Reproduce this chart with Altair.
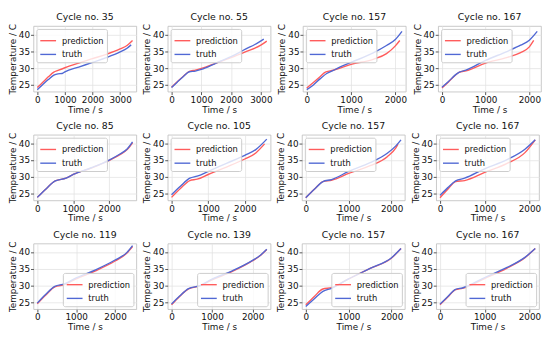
import altair as alt
import pandas as pd

RED = "#ff5c5c"
BLUE = "#5068d4"

titles = ["Cycle no. 35", "Cycle no. 55", "Cycle no. 157", "Cycle no. 167",
          "Cycle no. 85", "Cycle no. 105", "Cycle no. 157", "Cycle no. 167",
          "Cycle no. 119", "Cycle no. 139", "Cycle no. 157", "Cycle no. 167"]

# Panel 1 (Cycle 35)
p1_pred_t = [0, 200, 400, 600, 750, 1000, 1500, 2000, 2500, 3000, 3250, 3450]
p1_pred_v = [24.2, 25.8, 27.4, 28.8, 29.3, 30.1, 31.5, 32.8, 34.1, 35.7, 36.7, 38.2]
p1_true_t = [0, 200, 400, 600, 750, 900, 1000, 1500, 2000, 2500, 3000, 3250, 3400]
p1_true_v = [23.6, 25.1, 26.6, 27.9, 28.3, 28.4, 28.9, 30.3, 31.7, 33.1, 34.8, 35.9, 36.9]
# Panel 2 (Cycle 55)
p2_pred_t = [0, 200, 400, 600, 800, 1000, 1500, 2000, 2500, 3000, 3200]
p2_pred_v = [24.3, 26.0, 27.6, 29.0, 29.4, 29.9, 31.5, 33.1, 34.9, 36.8, 38.0]
p2_true_t = [0, 200, 400, 600, 800, 1000, 1500, 2000, 2500, 2800, 3100]
p2_true_v = [24.2, 25.9, 27.5, 28.9, 29.1, 29.6, 31.5, 33.4, 35.7, 37.0, 38.6]
# Panel 3 (Cycle 157)
p3_pred_t = [0, 150, 300, 420, 550, 700, 1000, 1500, 1800, 2000, 2100]
p3_pred_v = [24.1, 25.7, 27.4, 28.8, 29.2, 29.8, 31.1, 32.6, 34.3, 36.6, 38.2]
p3_true_t = [0, 150, 300, 450, 600, 700, 1000, 1500, 1800, 2000, 2150]
p3_true_v = [23.6, 25.0, 26.8, 28.4, 29.3, 30.0, 31.7, 34.5, 36.7, 38.5, 40.9]
# Panel 4 (Cycle 167)
p4_pred_t = [0, 150, 300, 400, 550, 1000, 1500, 1800, 2000, 2100]
p4_pred_v = [24.1, 25.9, 27.8, 28.8, 29.2, 31.5, 33.2, 34.6, 36.3, 38.2]
p4_true_t = [0, 150, 300, 400, 550, 1000, 1500, 1800, 2000, 2180]
p4_true_v = [24.3, 26.0, 27.9, 28.8, 29.4, 32.3, 35.0, 36.8, 38.3, 40.9]
# Panel 5 (Cycle 85)
p5_pred_t = [0, 250, 500, 800, 1000, 1500, 2000, 2300, 2500, 2650]
p5_pred_v = [23.9, 26.5, 28.8, 29.6, 30.7, 32.6, 34.9, 36.6, 38.1, 40.1]
p5_true_t = [0, 250, 500, 800, 1000, 1500, 2000, 2300, 2500, 2650]
p5_true_v = [23.9, 26.5, 28.8, 29.6, 30.7, 32.7, 35.0, 36.8, 38.3, 40.4]
# Panel 6 (Cycle 105)
p6_pred_t = [0, 250, 500, 700, 1000, 1500, 2000, 2300, 2540]
p6_pred_v = [23.9, 26.6, 28.9, 29.3, 30.7, 32.9, 35.3, 37.1, 39.8]
p6_true_t = [0, 250, 500, 700, 1000, 1500, 2000, 2300, 2600]
p6_true_v = [24.7, 27.3, 29.6, 30.2, 31.6, 34.0, 36.4, 38.1, 41.2]
# Panel 7 (Cycle 157)
p7_pred_t = [0, 200, 400, 600, 1000, 1500, 1900, 2100, 2150]
p7_pred_v = [23.8, 26.3, 28.6, 29.0, 31.0, 33.3, 36.0, 38.6, 39.7]
p7_true_t = [0, 200, 400, 600, 1000, 1500, 1900, 2100, 2220]
p7_true_v = [23.8, 26.3, 28.6, 29.2, 31.6, 34.2, 37.0, 39.2, 41.0]
# Panel 8 (Cycle 167)
p8_pred_t = [0, 175, 350, 550, 1000, 1500, 1900, 2130]
p8_pred_v = [23.8, 26.3, 28.6, 28.9, 31.3, 34.0, 37.2, 41.0]
p8_true_t = [0, 175, 350, 550, 1000, 1500, 1900, 2130]
p8_true_v = [24.5, 26.8, 28.8, 29.6, 32.4, 35.1, 38.2, 41.0]
# Panel 9 (Cycle 119)
p9_pred_t = [0, 220, 450, 700, 1000, 1500, 2000, 2300, 2450]
p9_pred_v = [24.6, 27.2, 29.6, 30.3, 32.0, 34.4, 37.3, 39.6, 41.6]
p9_true_t = [0, 220, 450, 700, 1000, 1500, 2000, 2300, 2450]
p9_true_v = [24.8, 27.4, 29.8, 30.5, 32.3, 34.7, 37.6, 39.8, 41.9]
# Panel 10 (Cycle 139)
p10_pred_t = [0, 200, 420, 700, 1000, 1500, 2000, 2200, 2350]
p10_pred_v = [24.3, 26.8, 29.0, 29.9, 31.7, 34.2, 37.4, 39.0, 40.7]
p10_true_t = [0, 200, 420, 700, 1000, 1500, 2000, 2200, 2350]
p10_true_v = [24.5, 26.9, 29.1, 30.0, 31.9, 34.4, 37.5, 39.1, 40.8]
# Panel 11 (Cycle 157)
p11_pred_t = [0, 200, 400, 600, 1000, 1500, 2000, 2220]
p11_pred_v = [24.3, 26.8, 29.0, 29.4, 32.0, 35.1, 38.2, 41.0]
p11_true_t = [0, 200, 400, 600, 1000, 1500, 2000, 2220]
p11_true_v = [23.8, 26.1, 28.3, 29.2, 32.0, 35.1, 38.3, 41.0]
# Panel 12 (Cycle 167)
p12_pred_t = [0, 175, 350, 500, 1000, 1500, 1900, 2130]
p12_pred_v = [24.3, 26.6, 28.8, 29.2, 32.1, 35.2, 38.3, 41.0]
p12_true_t = [0, 175, 350, 500, 1000, 1500, 1900, 2130]
p12_true_v = [24.5, 26.8, 28.9, 29.3, 32.4, 35.4, 38.4, 41.0]

panels = [
    (p1_pred_t, p1_pred_v, p1_true_t, p1_true_v),
    (p2_pred_t, p2_pred_v, p2_true_t, p2_true_v),
    (p3_pred_t, p3_pred_v, p3_true_t, p3_true_v),
    (p4_pred_t, p4_pred_v, p4_true_t, p4_true_v),
    (p5_pred_t, p5_pred_v, p5_true_t, p5_true_v),
    (p6_pred_t, p6_pred_v, p6_true_t, p6_true_v),
    (p7_pred_t, p7_pred_v, p7_true_t, p7_true_v),
    (p8_pred_t, p8_pred_v, p8_true_t, p8_true_v),
    (p9_pred_t, p9_pred_v, p9_true_t, p9_true_v),
    (p10_pred_t, p10_pred_v, p10_true_t, p10_true_v),
    (p11_pred_t, p11_pred_v, p11_true_t, p11_true_v),
    (p12_pred_t, p12_pred_v, p12_true_t, p12_true_v),
]

y_ticks = [25, 30, 35, 40]
y_domain = [23, 42.5]
W, H = 105, 67


def make_panel(i):
    pt, pv, tt, tv = panels[i]
    rows = [{"t": a, "v": b, "s": "prediction"} for a, b in zip(pt, pv)]
    rows += [{"t": a, "v": b, "s": "truth"} for a, b in zip(tt, tv)]
    df = pd.DataFrame(rows)
    tmax = max(pt + tt)
    dom = [-0.04 * tmax, 1.04 * tmax]
    xt = list(range(0, int(tmax) + 1, 1000))
    orient = "bottom-right" if i >= 8 else "top-left"
    return alt.Chart(df).mark_line(strokeWidth=1.4, interpolate="monotone", clip=True).encode(
        x=alt.X("t:Q", scale=alt.Scale(domain=dom, nice=False, zero=False),
                axis=alt.Axis(values=xt, title="Time / s", format="d")),
        y=alt.Y("v:Q", scale=alt.Scale(domain=y_domain, nice=False, zero=False),
                axis=alt.Axis(values=y_ticks, title="Temperature / C")),
        color=alt.Color("s:N", scale=alt.Scale(domain=["prediction", "truth"], range=[RED, BLUE]),
                        legend=alt.Legend(title=None, orient=orient)),
    ).properties(width=W, height=H, title=titles[i])


rows = []
for r in range(3):
    rows.append(alt.hconcat(*[make_panel(r * 4 + c) for c in range(4)], spacing=5)
                .resolve_scale(color="independent").resolve_legend(color="independent"))

chart = alt.vconcat(*rows, spacing=5).resolve_scale(color="independent").resolve_legend(
    color="independent"
).properties(padding=0).configure(font="DejaVu Sans").configure_view(
    stroke="#bbbbbb", strokeWidth=0.8
).configure_axis(
    labelFontSize=9, titleFontSize=9, titleFontWeight="normal", labelColor="#111111",
    titleColor="#111111", gridColor="#e3e3e3", gridWidth=0.8, domain=False,
    tickColor="#555555", tickSize=3, labelPadding=1, titlePadding=1
).configure_title(
    fontSize=9.5, fontWeight="normal", color="#111111", offset=2
).configure_legend(
    labelFontSize=8.5, symbolType="stroke", symbolSize=260, symbolStrokeWidth=1.4,
    padding=3, offset=3, fillColor="rgba(255,255,255,0.8)", strokeColor="#cccccc",
    cornerRadius=2, rowPadding=0, labelOffset=5, labelColor="#111111"
)

chart.save("out.html", embed_options={"renderer": "svg", "actions": False})
